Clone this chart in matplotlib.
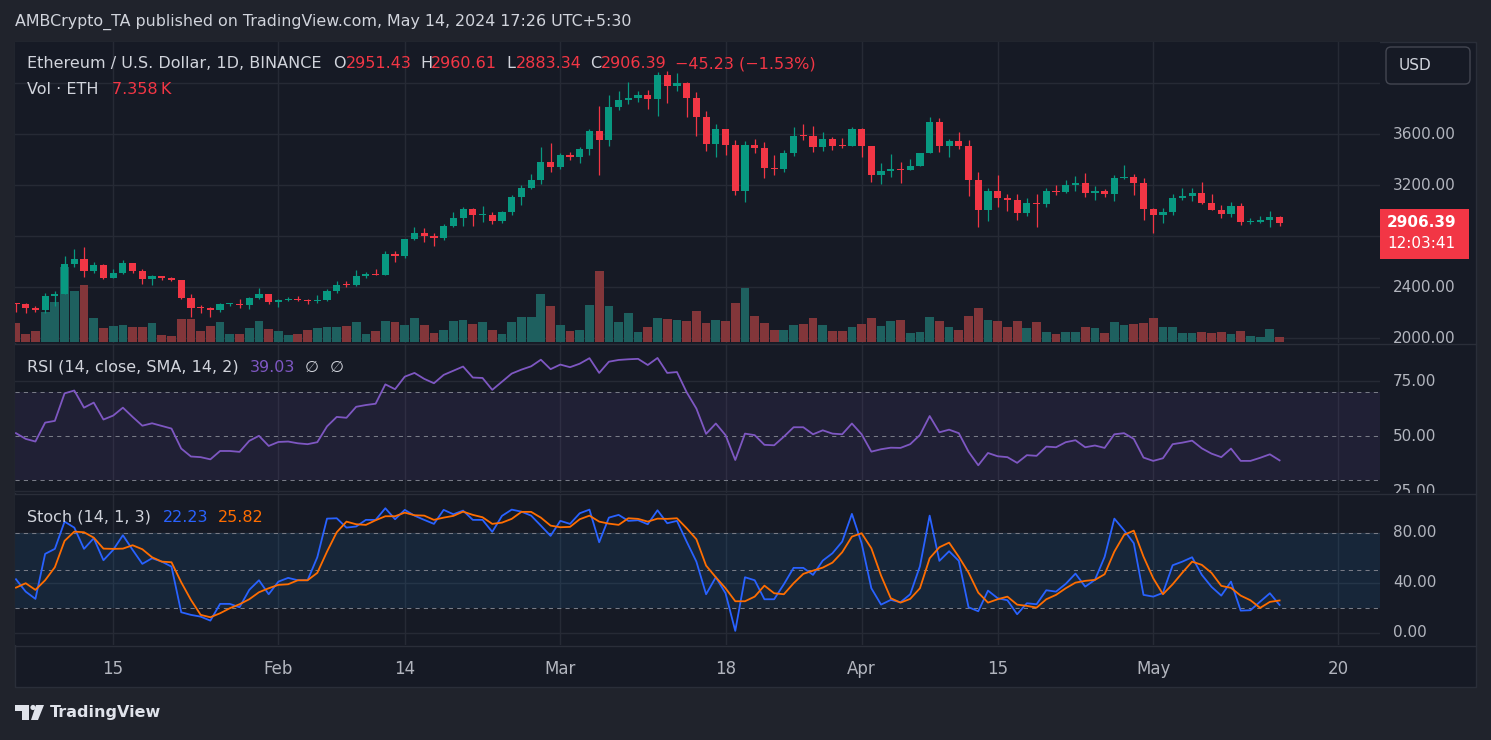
import numpy as np
import pandas as pd
import matplotlib
matplotlib.use("Agg")
import matplotlib.pyplot as plt
import matplotlib.dates as mdates
from matplotlib.patches import Rectangle, FancyBboxPatch, Polygon, Circle
from matplotlib.lines import Line2D
from matplotlib.transforms import Affine2D, Bbox, blended_transform_factory

plt.rcParams['font.family'] = ['DejaVu Sans']

# ============================================================
# DATA - ETH/USD daily, Binance
# ============================================================
dates = pd.date_range('2024-01-05', '2024-05-14', freq='D')

opens = [
    2269, 2268, 2240, 2222, 2331, 2345, 2585, 2618, 2524, 2576,
    2472, 2511, 2587, 2529, 2468, 2490, 2469, 2454, 2314, 2241,
    2236, 2218, 2268, 2270, 2258, 2318, 2344, 2283, 2304, 2309,
    2298, 2290, 2300, 2372, 2421, 2419, 2487, 2506, 2500, 2660,
    2642, 2778, 2824, 2803, 2786, 2880, 2944, 3014, 2967, 2970,
    2922, 2992, 3112, 3178, 3242, 3385, 3340, 3434, 3420, 3488,
    3627, 3553, 3817, 3868, 3884, 3905, 3879, 4066, 3980, 4004,
    3881, 3735, 3523, 3644, 3519, 3158, 3516, 3492, 3334, 3330,
    3454, 3590, 3589, 3500, 3561, 3510, 3508, 3645, 3505, 3279,
    3312, 3331, 3319, 3353, 3456, 3695, 3505, 3544, 3505, 3240,
    3007, 3155, 3102, 3085, 2985, 3064, 3057, 3156, 3148, 3199,
    3219, 3138, 3155, 3130, 3254, 3263, 3216, 3013, 2970, 2987,
    3102, 3117, 3137, 3063, 3006, 2975, 3035, 2910, 2912, 2929,
    2951.43]

closes = [
    2268, 2240, 2222, 2331, 2345, 2585, 2618, 2524, 2576, 2472,
    2511, 2587, 2529, 2468, 2490, 2469, 2454, 2314, 2241, 2236,
    2218, 2268, 2270, 2258, 2318, 2344, 2283, 2304, 2309, 2298,
    2290, 2300, 2372, 2421, 2419, 2487, 2506, 2500, 2660, 2642,
    2778, 2824, 2803, 2786, 2880, 2944, 3014, 2967, 2970, 2922,
    2992, 3112, 3178, 3242, 3385, 3340, 3434, 3420, 3488, 3627,
    3553, 3817, 3868, 3884, 3905, 3879, 4066, 3980, 4004, 3881,
    3735, 3523, 3644, 3519, 3158, 3516, 3492, 3334, 3330, 3454,
    3590, 3589, 3500, 3561, 3510, 3508, 3645, 3505, 3279, 3312,
    3331, 3319, 3353, 3456, 3695, 3505, 3544, 3505, 3240, 3007,
    3155, 3102, 3085, 2985, 3064, 3057, 3156, 3148, 3199, 3219,
    3138, 3155, 3130, 3254, 3263, 3216, 3013, 2970, 2987, 3102,
    3117, 3137, 3063, 3006, 2975, 3035, 2910, 2912, 2929, 2950,
    2906.39]

highs = [
    2277, 2274, 2257, 2358, 2370, 2643, 2700, 2717, 2600, 2580,
    2545, 2613, 2590, 2545, 2500, 2490, 2478, 2457, 2345, 2258,
    2243, 2278, 2280, 2306, 2324, 2393, 2350, 2310, 2320, 2330,
    2305, 2337, 2388, 2450, 2448, 2535, 2520, 2540, 2685, 2684,
    2782, 2873, 2865, 2823, 2895, 2990, 3033, 3020, 3036, 2990,
    3000, 3125, 3202, 3288, 3500, 3529, 3450, 3460, 3499, 3640,
    3822, 3908, 3940, 4010, 3939, 3946, 4086, 4093, 4084, 4010,
    3934, 3783, 3680, 3644, 3555, 3550, 3560, 3539, 3438, 3477,
    3657, 3680, 3665, 3618, 3579, 3571, 3657, 3649, 3505, 3375,
    3445, 3385, 3406, 3457, 3735, 3727, 3563, 3618, 3554, 3304,
    3178, 3281, 3128, 3131, 3100, 3131, 3178, 3202, 3241, 3273,
    3296, 3194, 3171, 3280, 3359, 3288, 3257, 3025, 3022, 3131,
    3175, 3178, 3226, 3131, 3045, 3069, 3061, 2943, 2959, 2998,
    2960.61]

lows = [
    2209, 2200, 2210, 2198, 2250, 2345, 2558, 2480, 2510, 2467,
    2470, 2503, 2510, 2426, 2416, 2460, 2450, 2308, 2170, 2195,
    2168, 2204, 2254, 2240, 2233, 2308, 2265, 2243, 2290, 2290,
    2265, 2280, 2293, 2352, 2400, 2410, 2472, 2493, 2500, 2601,
    2630, 2770, 2758, 2726, 2770, 2870, 2884, 2884, 2915, 2900,
    2906, 2970, 3045, 3173, 3210, 3305, 3330, 3400, 3372, 3440,
    3280, 3508, 3790, 3834, 3857, 3801, 3740, 3845, 3939, 3735,
    3589, 3470, 3424, 3440, 3120, 3069, 3450, 3257, 3281, 3304,
    3430, 3555, 3461, 3469, 3477, 3492, 3508, 3421, 3226, 3210,
    3265, 3218, 3320, 3353, 3453, 3461, 3422, 3485, 3116, 2875,
    2920, 3030, 3000, 2928, 2959, 2875, 3032, 3124, 3139, 3155,
    3108, 3084, 3108, 3077, 3249, 3124, 2928, 2824, 2907, 2967,
    3085, 3077, 3053, 3006, 2946, 2951, 2891, 2896, 2907, 2873,
    2883.34]

# volume in thousands of ETH
volume_k = [
    29.3, 12.1, 16.8, 46.5, 62.2, 117.4, 79.9, 88.8, 37.1, 21.5,
    25.1, 26.2, 23.0, 23.0, 29.3, 10.5, 8.9, 36.0, 36.0, 16.8,
    24.6, 30.9, 12.1, 12.1, 21.5, 32.4, 19.9, 16.8, 10.5, 12.1,
    18.3, 21.5, 23.0, 23.0, 24.6, 30.9, 12.1, 16.8, 32.4, 30.9,
    26.2, 37.1, 26.2, 13.6, 18.3, 32.4, 34.0, 27.7, 30.9, 18.3,
    12.1, 30.9, 38.7, 38.7, 74.7, 55.9, 26.2, 16.8, 18.3, 57.5,
    111.2, 55.9, 30.9, 44.9, 15.2, 23.0, 37.1, 35.5, 34.0, 32.4,
    48.1, 29.3, 34.0, 32.4, 60.6, 84.1, 40.2, 29.3, 18.3, 18.3,
    26.2, 27.7, 37.1, 26.2, 16.8, 16.8, 23.0, 27.7, 37.1, 24.6,
    32.4, 34.0, 13.6, 15.2, 38.7, 32.4, 23.0, 18.3, 40.2, 52.8,
    34.0, 32.4, 23.0, 32.4, 21.5, 30.9, 15.2, 12.1, 15.2, 15.2,
    23.0, 21.5, 13.6, 30.9, 26.2, 27.7, 29.3, 37.1, 23.0, 23.0,
    13.6, 13.6, 15.2, 13.6, 15.2, 12.1, 16.8, 8.9, 7.4, 19.9,
    7.358]

rsi = [
    51.4, 48.8, 47.6, 56.2, 57.0, 69.5, 70.8, 63.0, 65.3, 57.6,
    59.4, 63.0, 58.8, 54.8, 55.9, 54.7, 53.5, 44.4, 40.8, 40.5,
    39.5, 43.3, 43.3, 42.9, 47.9, 50.2, 45.6, 47.4, 47.6, 46.8,
    46.4, 47.3, 54.5, 58.8, 58.4, 63.4, 64.2, 64.8, 73.6, 71.4,
    77.1, 78.8, 76.1, 74.1, 77.9, 79.8, 81.7, 76.7, 76.5, 71.1,
    74.8, 78.5, 80.3, 81.8, 84.8, 80.5, 82.6, 81.4, 83.0, 85.5,
    78.8, 83.9, 84.7, 85.0, 85.2, 82.4, 85.6, 78.8, 79.2, 70.0,
    62.6, 51.1, 55.8, 50.5, 39.2, 51.2, 50.5, 46.1, 45.9, 49.8,
    54.1, 54.1, 50.9, 52.7, 51.2, 50.9, 55.8, 50.9, 43.0, 44.1,
    44.8, 44.7, 46.4, 50.6, 59.2, 51.8, 53.0, 51.4, 43.0, 36.8,
    42.4, 40.9, 40.5, 37.9, 41.4, 41.1, 45.3, 45.0, 47.3, 48.2,
    45.0, 45.8, 44.7, 50.9, 51.4, 48.8, 40.3, 38.8, 40.0, 46.4,
    47.1, 48.0, 44.5, 42.1, 40.5, 44.4, 38.8, 38.8, 40.2, 41.8,
    39.03]

stoch_k = [
    42.8, 32.9, 27.1, 63.1, 67.1, 88.9, 84.1, 67.1, 75.6, 58.0,
    66.3, 78.0, 66.3, 55.1, 59.6, 56.9, 52.9, 16.4, 14.3, 12.9,
    9.7, 23.1, 23.1, 20.4, 34.3, 42.0, 30.8, 40.9, 43.9, 42.0,
    42.0, 60.4, 91.3, 91.6, 84.1, 85.0, 90.3, 90.3, 99.6, 90.8,
    98.3, 93.7, 90.3, 87.1, 98.3, 94.8, 97.7, 90.3, 90.3, 80.7,
    93.5, 98.5, 96.9, 93.7, 85.7, 77.5, 89.5, 87.1, 95.6, 98.5,
    72.4, 92.1, 94.3, 89.5, 90.0, 86.8, 98.0, 87.6, 89.5, 72.9,
    56.9, 30.8, 44.4, 31.6, 1.5, 44.4, 42.0, 26.8, 26.8, 38.8,
    51.9, 51.9, 46.3, 57.7, 63.6, 72.9, 95.1, 71.6, 35.6, 22.5,
    26.3, 24.4, 30.8, 53.2, 93.7, 57.5, 65.2, 57.5, 20.4, 17.2,
    33.7, 27.6, 26.0, 14.8, 23.6, 22.8, 34.0, 32.9, 39.1, 47.3,
    36.9, 42.3, 60.7, 91.3, 82.0, 71.6, 30.3, 28.9, 31.9, 54.0,
    56.9, 60.4, 46.3, 36.7, 29.7, 40.9, 17.7, 18.0, 24.9, 31.6,
    22.23]

stoch_d = [
    36.1, 39.6, 34.3, 42.0, 52.4, 73.5, 80.9, 80.4, 76.1, 67.3,
    67.1, 67.3, 70.0, 66.8, 60.4, 56.9, 56.4, 40.4, 26.3, 14.3,
    12.4, 15.6, 19.6, 22.8, 26.8, 32.4, 35.6, 38.3, 38.8, 42.0,
    42.0, 47.9, 64.9, 80.4, 88.9, 86.8, 86.3, 90.0, 93.2, 93.2,
    96.1, 94.0, 93.7, 90.3, 92.1, 93.5, 96.9, 94.3, 92.4, 87.1,
    88.1, 91.1, 96.7, 96.7, 92.1, 85.7, 84.4, 84.7, 90.8, 93.7,
    88.9, 87.3, 86.3, 91.6, 91.1, 88.9, 91.3, 91.1, 91.6, 83.6,
    74.8, 53.7, 44.4, 35.6, 25.2, 25.2, 28.9, 37.7, 31.6, 30.8,
    39.6, 47.1, 49.7, 52.1, 56.1, 64.4, 76.9, 79.6, 67.6, 45.7,
    27.6, 24.1, 27.1, 35.6, 59.6, 68.4, 72.1, 60.7, 48.1, 32.1,
    24.1, 26.8, 28.9, 22.5, 21.5, 20.1, 26.8, 30.3, 35.6, 40.1,
    41.5, 42.3, 46.8, 64.9, 78.3, 81.7, 60.9, 43.6, 30.8, 38.8,
    48.1, 56.9, 54.3, 47.9, 37.5, 35.9, 29.7, 26.0, 19.9, 24.7,
    25.82]

tick_dates = ['2024-01-15', '2024-02-01', '2024-02-14', '2024-03-01', '2024-03-18',
              '2024-04-01', '2024-04-15', '2024-05-01', '2024-05-20']
tick_labels = ['15', 'Feb', '14', 'Mar', '18', 'Apr', '15', 'May', '20']

price_grid = [2000, 2400, 2800, 3200, 3600, 4000]
price_labels = ['2000.00', '2400.00', '', '3200.00', '3600.00', '']

# ============================================================
# STYLE
# ============================================================
W, H = 1491, 740
BG = '#20232c'
PANE = '#161a25'
GRID = '#262a35'
TXT = '#d1d4dc'
AX_TXT = '#b2b5be'
UP = '#089981'
DN = '#f23645'
VOL_UP = '#1e605f'
VOL_DN = '#82363a'
FS = 11.5      # legend text
AX_FS = 11     # price / indicator scale labels

fig = plt.figure(figsize=(W / 100, H / 100), dpi=100, facecolor=BG)
# pixel coords, origin top-left
px = Affine2D().scale(1 / W, -1 / H).translate(0, 1) + fig.transFigure


def pane(y0, y1):
    ax = fig.add_axes([15 / W, 1 - y1 / H, (1380 - 15) / W, (y1 - y0) / H])
    for s in ax.spines.values():
        s.set_visible(False)
    ax.tick_params(left=False, bottom=False, labelleft=False, labelbottom=False)
    return ax


def ptext(x, y, s, color=TXT, size=FS, **kw):
    return fig.text(x, y, s, color=color, fontsize=size, va='center', ha='left',
                    transform=px, **kw)


# chart frame
fig.add_artist(Rectangle((15, 42), 1461, 645, transform=px, facecolor=PANE,
                         edgecolor='#2a2e39', lw=1, zorder=-5))

x = mdates.date2num(dates)
xlim = (x[0] - 0.1, x[0] + 140.33)
xt = mdates.date2num(pd.to_datetime(tick_dates))
o = np.array(opens); c = np.array(closes)
up = c >= o
cols = np.where(up, UP, DN)
vcols = np.where(up, VOL_UP, VOL_DN)

# ============================================================
# PRICE PANE (+ volume behind)
# ============================================================
ax_v = pane(42, 343)
ax_p = pane(42, 343)
ax_p.patch.set_visible(False)
ax_v.set_facecolor(PANE)
for a in (ax_v, ax_p):
    a.set_xlim(*xlim)
ax_p.set_ylim(1963, 4324)
ax_v.set_ylim(-2, 469)

for t in xt:
    ax_v.axvline(t, color=GRID, lw=1, zorder=0)
ytr = blended_transform_factory(ax_v.transAxes, ax_p.transData)
for p in price_grid:
    ax_v.plot([0, 1], [p, p], transform=ytr, color=GRID, lw=1, zorder=0)

ax_v.bar(x, volume_k, width=0.9, color=vcols, lw=0, zorder=2)

ax_p.vlines(x, lows, highs, colors=cols, lw=0.9, zorder=3)
ax_p.bar(x, np.maximum(np.abs(c - o), 7), bottom=np.minimum(o, c), width=0.74,
         color=cols, lw=0, zorder=4)

# ============================================================
# RSI PANE
# ============================================================
ax_r = pane(344, 493)
ax_r.set_facecolor(PANE)
ax_r.set_xlim(*xlim)
ax_r.set_ylim(24.2, 91.95)
for t in xt:
    ax_r.axvline(t, color=GRID, lw=1, zorder=0)
for g in (75, 25):
    ax_r.axhline(g, color=GRID, lw=1, zorder=0)
ax_r.axhspan(30, 70, color='#7e57c2', alpha=0.1, lw=0, zorder=1)
for g in (70, 50, 30):
    ax_r.axhline(g, color='#787b86', lw=0.75, ls=(0, (4, 4)), zorder=2)
ax_r.plot(x, rsi, color='#7e57c2', lw=1.3, zorder=3)

# ============================================================
# STOCH PANE
# ============================================================
ax_s = pane(494, 645)
ax_s.set_facecolor(PANE)
ax_s.set_xlim(*xlim)
ax_s.set_ylim(-9.8, 111.0)
for t in xt:
    ax_s.axvline(t, color=GRID, lw=1, zorder=0)
for g in (80, 40, 0):
    ax_s.axhline(g, color=GRID, lw=1, zorder=0)
ax_s.axhspan(20, 80, color='#2196f3', alpha=0.1, lw=0, zorder=1)
for g in (80, 50, 20):
    ax_s.axhline(g, color='#787b86', lw=0.75, ls=(0, (4, 4)), zorder=2)
ax_s.plot(x, stoch_k, color='#2962ff', lw=1.3, zorder=3)
ax_s.plot(x, stoch_d, color='#ff6d00', lw=1.3, zorder=4)

ax_s.set_xticks(xt)
ax_s.set_xticklabels(tick_labels)
ax_s.tick_params(axis='x', length=0, pad=11, labelbottom=True, colors=AX_TXT,
                 labelsize=12)

# pane separators
for yy in (343.5, 493.5, 645.5):
    fig.add_artist(Line2D([15, 1476], [yy, yy], transform=px, color='#2a2e39', lw=1))

# ============================================================
# RIGHT AXIS LABELS
# ============================================================
def axis_labels(ax, vals, labels, y0, y1):
    tr = blended_transform_factory(px, ax.transData)
    clip = Bbox.from_extents(1380, H - y1, 1477, H - y0)
    for v, s in zip(vals, labels):
        t = fig.text(1393, v, s, transform=tr, color=AX_TXT, fontsize=AX_FS,
                     va='center', ha='left')
        t.set_clip_on(True)
        t.set_clip_box(clip)


axis_labels(ax_p, price_grid, price_labels, 42, 343)
axis_labels(ax_r, [75, 50, 25], ['75.00', '50.00', '25.00'], 344, 493)
axis_labels(ax_s, [80, 40, 0], ['80.00', '40.00', '0.00'], 494, 645)

# last price tag
y_last = H - ax_p.transData.transform((x[-1], closes[-1]))[1]
fig.add_artist(Rectangle((1380, y_last - 14), 89, 50, transform=px,
                         facecolor=DN, lw=0, zorder=5))
ptext(1387, y_last, f'{closes[-1]:.2f}', color='white', size=AX_FS,
      weight='bold', zorder=6)
ptext(1387, y_last + 21, '12:03:41', color='white', size=AX_FS, zorder=6)

# USD button
fig.add_artist(FancyBboxPatch((1386, 47), 84, 37, transform=px,
                              boxstyle='round,pad=0,rounding_size=5',
                              facecolor=PANE, edgecolor='#434651', lw=1, zorder=5))
ptext(1399, 65.5, 'USD', color=TXT, size=AX_FS, zorder=6)

# ============================================================
# TEXTS / LEGENDS
# ============================================================
ptext(15, 22, 'AMBCrypto_TA published on TradingView.com, May 14, 2024 17:26 UTC+5:30',
      size=11.4)

ptext(27, 64, 'Ethereum / U.S. Dollar, 1D, BINANCE')
for lx, letter, vx, val in [(333, 'O', 346, '2951.43'), (420, 'H', 431, '2960.61'),
                            (506, 'L', 516, '2883.34'), (590, 'C', 601, '2906.39')]:
    ptext(lx, 64, letter)
    ptext(vx, 64, val, color=DN)
ptext(675, 64, '\u221245.23 (\u22121.53%)', color=DN)

ptext(27, 90, 'Vol \u00b7 ETH')
ptext(112, 90, '7.358\u2009K', color=DN)

ptext(27, 367, 'RSI (14, close, SMA, 14, 2)')
ptext(250, 367, f'{rsi[-1]:.2f}', color='#7e57c2')
ptext(305, 367, '\u2205')
ptext(330, 367, '\u2205')

ptext(27, 517, 'Stoch (14, 1, 3)')
ptext(163, 517, f'{stoch_k[-1]:.2f}', color='#2962ff')
ptext(218, 517, f'{stoch_d[-1]:.2f}', color='#ff6d00')

# TradingView logo
logo = '#e0e3eb'
fig.add_artist(Rectangle((15, 705), 14, 6, transform=px, facecolor=logo, lw=0))
fig.add_artist(Rectangle((22, 705), 7, 15, transform=px, facecolor=logo, lw=0))
fig.add_artist(Circle((33, 707.5), 2.6, transform=px, facecolor=logo, lw=0))
fig.add_artist(Polygon([(36, 705), (44, 705), (38, 720), (31, 720)], closed=True,
                       transform=px, facecolor=logo, lw=0))
ptext(50, 713, 'TradingView', color=logo, size=11.5, weight='semibold')

fig.savefig('out.png', dpi=100, facecolor=BG)
